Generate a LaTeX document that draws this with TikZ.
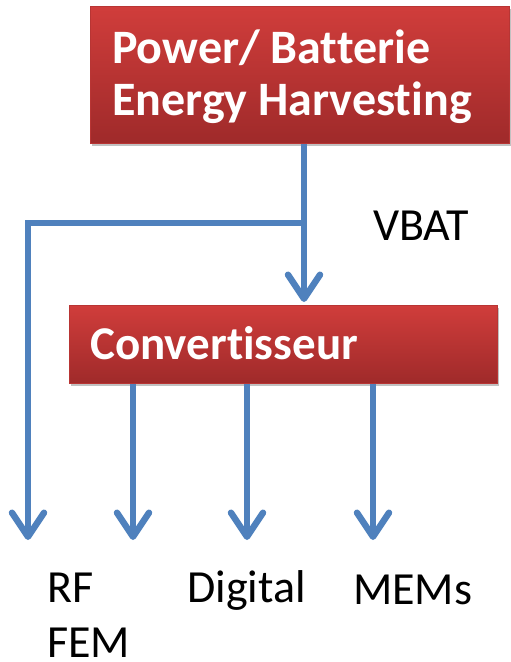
\documentclass[tikz,border=0pt]{standalone}
\usepackage{fontspec}
\setmainfont{Carlito}[Ligatures=NoCommon]
\usetikzlibrary{arrows.meta,shadows,calc}

\definecolor{boxtop}{HTML}{D03D3B}
\definecolor{boxbot}{HTML}{9F2A2A}
\definecolor{boxedge}{HTML}{B83534}
\definecolor{wire}{HTML}{4F81BD}

\tikzset{
  redbox/.style={rectangle, draw=boxedge, line width=0.8pt,
    top color=boxtop, bottom color=boxbot, inner sep=0pt,
    drop shadow={shadow xshift=2pt, shadow yshift=-3pt, opacity=0.35, fill=black!70}},
  boxtext/.style={anchor=base west, inner sep=0pt, text=white,
    font=\fontsize{48}{52}\selectfont\bfseries},
  label/.style={anchor=base west, inner sep=0pt, text=black, text depth=0pt,
    font=\fontsize{46}{56}\selectfont},
  wireline/.style={draw=wire, line width=6.5pt, line join=miter},
  wirearrow/.style={wireline, -{Straight Barb[length=24pt, width=32pt, line cap=round, line join=round]}},
}

\begin{document}
\begin{tikzpicture}[x=1pt, y=-1pt]
  \useasboundingbox (0,0) rectangle (511,662);
  \begin{scope}
    \clip (0,0) rectangle (511,662);

    % source block
    \node[redbox, minimum width=419pt, minimum height=137pt, anchor=north west]
      (src) at (90,6) {};
    \node[boxtext] (srcA) at (112,63) {Power/ Batterie};
    \node[boxtext] (srcB) at (112,115) {Energy Harvesting};

    % converter block
    \node[redbox, minimum width=428pt, minimum height=78pt, anchor=north west]
      (conv) at (69,305) {};
    \node[boxtext, font=\fontsize{47}{50}\selectfont\bfseries] (convT) at (90,359) {Convertisseur};

    % branch point and arrow ends
    \coordinate (tap) at (304,223);
    \coordinate (corner) at (28,223);
    \coordinate (eRF) at (28,540);
    \coordinate (eRF2) at (133,540);
    \coordinate (eDig) at (247,540);
    \coordinate (eMem) at (373,540);

    % VBAT supply
    \draw[wirearrow] (src.south -| tap) -- ($(conv.north -| tap)+(0,-3)$);
    \draw[wirearrow] (tap) -- (corner) -- (eRF);

    % converter outputs
    \draw[wirearrow] (conv.south -| eRF2) -- (eRF2);
    \draw[wirearrow] (conv.south -| eDig) -- (eDig);
    \draw[wirearrow] (conv.south -| eMem) -- (eMem);

    % labels
    \node[label] (vbat) at (373,240) {VBAT};
    \node[label] (rf) at (47,602) {RF};
    \node[label] (fem) at (47,657) {FEM};
    \node[label] (dig) at (187,602) {Digital};
    \node[label] (mem) at (353,604) {MEMs};
  \end{scope}
\end{tikzpicture}
\end{document}
